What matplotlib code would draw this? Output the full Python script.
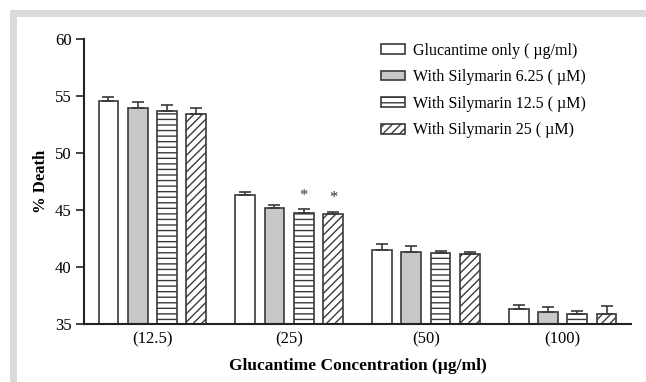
import matplotlib
matplotlib.use("Agg")
import matplotlib.pyplot as plt
import numpy as np
from matplotlib.patches import Rectangle

categories = ["(12.5)", "(25)", "(50)", "(100)"]
series_names = ["Glucantime only ( \u00b5g/ml)", "With Silymarin 6.25 ( \u00b5M)",
                "With Silymarin 12.5 ( \u00b5M)", "With Silymarin 25 ( \u00b5M)"]
glucantime_only = [54.6, 46.3, 41.5, 36.35]
sily_625 = [54.0, 45.17, 41.3, 36.05]
sily_125 = [53.68, 44.8, 41.25, 35.93]
sily_25 = [53.47, 44.7, 41.19, 35.9]
err_only = [0.3, 0.32, 0.55, 0.35]
err_625 = [0.53, 0.32, 0.58, 0.47]
err_125 = [0.55, 0.3, 0.2, 0.27]
err_25 = [0.48, 0.18, 0.15, 0.73]
significant = [[False, False, False, False], [False, False, False, False],
               [False, True, False, False], [False, True, False, False]]
yticks = [35, 40, 45, 50, 55, 60]

plt.rcParams['font.family'] = ['Liberation Serif', 'DejaVu Serif']
plt.rcParams['hatch.linewidth'] = 1.0

fig = plt.figure(figsize=(6.46, 3.82), dpi=100)
W, H = 646, 382
fig.patches.append(Rectangle((10 / W, 1 - 17 / H), 1 - 10 / W, 7 / H,
                             transform=fig.transFigure, facecolor='#dadada', edgecolor='none', zorder=0))
fig.patches.append(Rectangle((10 / W, 0), 7 / W, 1 - 10 / H,
                             transform=fig.transFigure, facecolor='#dadada', edgecolor='none', zorder=0))

ax = fig.add_axes([84 / W, 1 - 324.3 / H, (631 - 84) / W, (324.3 - 39.3) / H])

values = [glucantime_only, sily_625, sily_125, sily_25]
errors = [err_only, err_625, err_125, err_25]
faces = ['white', '#c8c8c8', 'white', 'white']
hatches = [None, None, '---', '////']
x = np.arange(len(categories))
step = 0.214
width = 0.144
edge = '#3a3a3a'
for i in range(4):
    pos = x + (i - 1.5) * step
    ax.bar(pos, np.array(values[i]) - 35, width, bottom=35, color=faces[i],
           edgecolor=edge, linewidth=1.2, hatch=hatches[i], zorder=2,
           label=series_names[i])
    ax.errorbar(pos, values[i], yerr=[np.zeros(4), errors[i]], fmt='none',
                ecolor=edge, elinewidth=1.2, capsize=4, capthick=1.2, zorder=3)
    for j in range(4):
        if significant[i][j]:
            ax.annotate('*', (pos[j], values[i][j] + errors[i][j]), xytext=(0, 4),
                        textcoords='offset points', ha='center', va='bottom',
                        fontsize=12, color='#333333')

ax.set_xlim(-0.5, 3.5)
ax.set_ylim(35, 60)
ax.set_yticks(yticks)
ax.set_xticks(x)
ax.set_xticklabels(categories)
ax.tick_params(axis='x', length=0, pad=5, labelsize=12)
ax.tick_params(axis='y', length=6, width=1.2, direction='out', pad=3, labelsize=12, color='#222222')
for s in ['top', 'right']:
    ax.spines[s].set_visible(False)
for s in ['left', 'bottom']:
    ax.spines[s].set_linewidth(1.5)
    ax.spines[s].set_color('#222222')

ax.set_ylabel('% Death', fontweight='bold', fontsize=12, labelpad=4)
ax.set_xlabel('Glucantime Concentration (\u00b5g/ml)', fontweight='bold', fontsize=12.5, labelpad=8)

leg = ax.legend(loc='upper left', bbox_to_anchor=(376 / W, 1 - 38 / H),
                bbox_transform=fig.transFigure, frameon=False, fontsize=11.5,
                handlelength=1.5, handleheight=0.55, handletextpad=0.5, labelspacing=0.66,
                borderaxespad=0, borderpad=0.3)

fig.savefig('out.png', dpi=100, facecolor='white')
